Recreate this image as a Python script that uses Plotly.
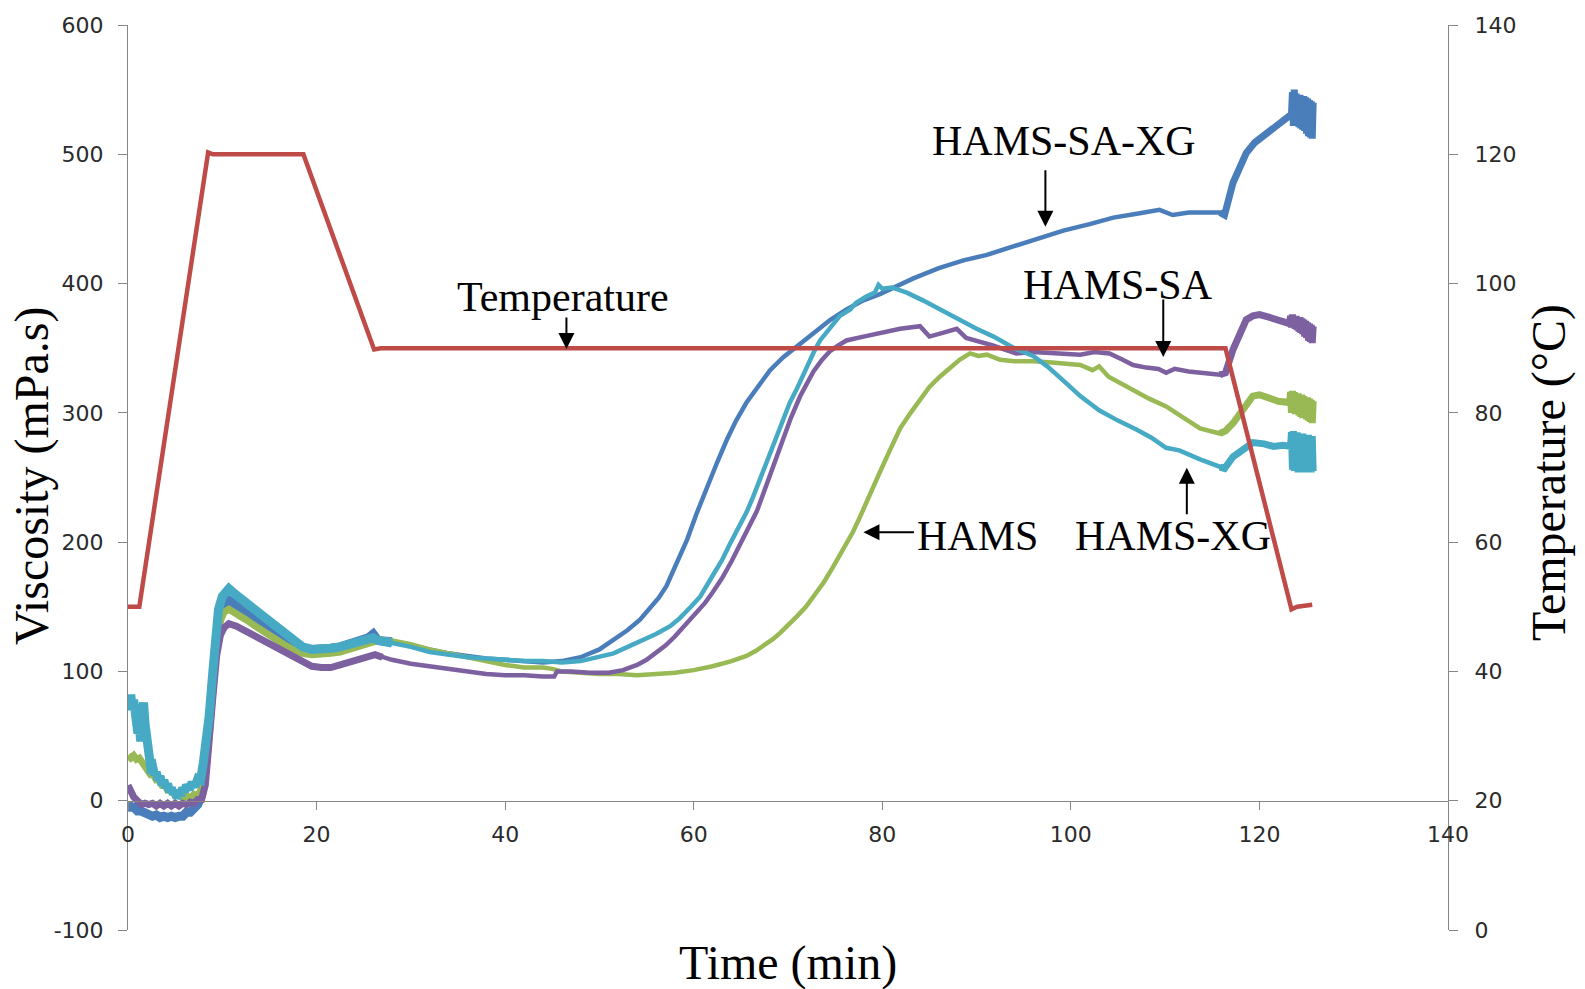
import plotly.graph_objects as go

# ---------------------------------------------------------------------------
# Data: time (min) vs viscosity (mPa.s) for each formulation, and the
# temperature programme (°C). Noisy stretches are recorded as alternating
# upper / lower readings.
# ---------------------------------------------------------------------------
hams_sa_xg = [
    (0, -2), (0.3, -5), (0.6, -5), (1.0, -8), (1.4, -8), (1.8, -10), (2.2, -10),
    (2.6, -12), (3.0, -11), (3.4, -13), (3.8, -12), (4.2, -13), (4.6, -12),
    (5.0, -13), (5.4, -12), (5.8, -12), (6.2, -9), (6.6, -9), (7.0, -6),
    (7.4, -3), (7.8, 4), (8.2, 25), (8.6, 60), (9.0, 100), (9.4, 128),
    (9.8, 145), (10.2, 152), (10.7, 155),
    (11.5, 151), (12.5, 147), (13.5, 142), (14.5, 137), (15.5, 132), (16.5, 127),
    (17.5, 122), (18.5, 118), (19.5, 117), (20.5, 117), (21.5, 118), (22.5, 119),
    (23.5, 121), (24.5, 123), (25.5, 126), (26.0, 129), (26.5, 124),
    (28, 123), (30, 120), (32, 117), (34, 114), (36, 112), (38, 110), (40, 109),
    (42, 108), (44, 107), (46, 108), (48, 111), (50, 117), (51.5, 124),
    (53, 132), (54.3, 140), (55.5, 150), (56.3, 157), (57.1, 166), (58.2, 183),
    (59.3, 202), (60.3, 222), (61.4, 243), (62.5, 262), (63.5, 279),
    (64.5, 294), (65.6, 308), (66.8, 320), (68.1, 333), (69.5, 343),
    (70.9, 351), (72.7, 362), (74.5, 372), (76.2, 380), (78, 387), (79.8, 392),
    (81.5, 398), (83.3, 404), (86, 412), (88.6, 418), (91, 422), (93.9, 429),
    (96.5, 435), (99.2, 441), (102, 446), (104.5, 451), (107, 454),
    (109.4, 457), (110.8, 453), (112.5, 455), (114, 455), (115.8, 455),
    (116.3, 453),
    (117.2, 478), (118, 493), (118.6, 501), (119.5, 509), (120.4, 514),
    (121.3, 518), (122.2, 523), (123.0, 528), (123.4, 531),
    (123.5, 548), (123.6, 522), (123.7, 550), (123.8, 523), (123.9, 547),
    (124.0, 522), (124.1, 546), (124.2, 521), (124.3, 546), (124.4, 520),
    (124.5, 545), (124.6, 519), (124.7, 545), (124.8, 518), (124.9, 544),
    (125.0, 516), (125.1, 543), (125.2, 514), (125.3, 542), (125.4, 513),
    (125.5, 541), (125.6, 512), (125.7, 540),
]

hams_sa = [
    (0, 12), (0.3, 7), (0.6, 3), (1.0, 0), (1.4, -3), (1.8, -2), (2.2, -3),
    (2.6, -2), (3.0, -4), (3.4, -2), (3.8, -4), (4.2, -2), (4.6, -4), (5.0, -2),
    (5.4, -4), (5.8, -2), (6.2, -3), (6.6, -1), (7.0, -2), (7.4, 1), (7.8, 1),
    (8.2, 12), (8.6, 40), (9.0, 80), (9.4, 112), (9.8, 128), (10.2, 134),
    (10.7, 137),
    (11.5, 135), (12.5, 131), (13.5, 127), (14.5, 123), (15.5, 119), (16.5, 115),
    (17.5, 111), (18.5, 107), (19.5, 104), (20.5, 103), (21.5, 103), (22.5, 105),
    (23.5, 107), (24.5, 109), (25.5, 111), (26.2, 113), (27, 111),
    (28, 109), (30, 106), (32, 104), (34, 102), (36, 100), (38, 98), (40, 97),
    (42, 97), (44, 96), (45.2, 96), (45.5, 100), (47, 100), (49, 99), (51, 99),
    (52.5, 101), (54, 105), (55, 109), (56, 114), (57, 120), (58, 127),
    (59, 135), (60.3, 145), (61.2, 153), (62, 161), (63, 172), (64, 185),
    (65, 199), (65.8, 212), (66.7, 224), (67.5, 240), (68.4, 258), (69.2, 274),
    (70.3, 296), (71.3, 313), (72.7, 332), (73.6, 341), (74.5, 348),
    (75.3, 352), (76.2, 356), (78, 359), (80, 362), (81.9, 365), (84, 367),
    (85, 359), (86.5, 362), (87.9, 365), (88.9, 358), (90.5, 355), (91.8, 352),
    (93, 349), (94.2, 346), (96, 347), (98, 346), (99.5, 346), (101, 345),
    (102.5, 347), (104.1, 346), (105.5, 341), (106.6, 337), (108, 335),
    (109.3, 334), (110.1, 331), (111, 334), (112.5, 332), (113.7, 331),
    (115, 330), (115.8, 329.5), (116.4, 331), (117.2, 349), (118, 364),
    (118.6, 372), (119.3, 375), (120, 376), (121, 374), (122, 372), (123.2, 369),
    (123.3, 375), (123.4, 366), (123.5, 376), (123.6, 366), (123.7, 375),
    (123.8, 365), (123.9, 375), (124.0, 364), (124.1, 374), (124.2, 363),
    (124.3, 374), (124.4, 362), (124.5, 373), (124.6, 361), (124.7, 372),
    (124.8, 359), (124.9, 371), (125.0, 358), (125.1, 370), (125.2, 356),
    (125.3, 369), (125.4, 355), (125.5, 368), (125.6, 354), (125.7, 367),
]

hams = [
    (0, 35), (0.3, 33), (0.6, 35), (0.9, 32), (1.2, 33), (1.5, 30), (1.8, 27),
    (2.1, 23), (2.4, 20), (2.7, 20), (3.0, 16), (3.3, 16), (3.6, 12), (3.9, 12),
    (4.2, 8), (4.6, 8), (5.0, 4), (5.4, 5), (5.8, 2), (6.2, 4), (6.6, 2),
    (7.0, 5), (7.4, 4), (7.8, 9), (8.2, 20), (8.6, 50), (9.0, 90), (9.4, 122),
    (9.8, 139), (10.2, 146), (10.7, 148),
    (11.5, 145), (12.5, 140), (13.5, 135), (14.5, 130), (15.5, 125), (16.5, 121),
    (17.5, 117), (18.5, 114), (19.5, 113), (20.5, 113), (21.5, 114), (22.5, 115),
    (23.5, 117), (24.5, 119), (25.5, 121), (26.3, 123), (27, 125),
    (28, 124), (30, 121), (32, 117), (34, 114), (36, 111), (38, 108), (40, 105),
    (42, 103), (44, 103), (45, 102), (46, 100), (48, 99), (50, 98), (52, 98),
    (54, 97), (56, 98), (58, 99), (60, 101), (62, 104), (64, 108), (65.6, 112),
    (66.6, 116), (67.5, 120), (68.4, 125), (69.2, 130), (70.1, 136), (71, 143),
    (71.9, 150), (72.7, 158), (73.8, 169), (74.8, 181), (75.9, 195),
    (76.9, 208), (77.6, 219), (78.3, 231), (79, 243), (79.8, 255), (80.8, 271),
    (81.9, 288), (83, 300), (84, 310), (85, 320), (86.1, 328), (87.2, 335),
    (88.2, 341), (89.3, 346), (90.2, 344), (91.1, 345), (92.5, 341), (94, 340),
    (96, 340), (98, 339), (100, 338), (101, 337), (102.3, 333), (103, 336),
    (104, 328), (105, 324), (106.6, 318), (108.3, 311), (110.1, 305),
    (111.8, 297), (113.7, 288), (115.8, 284), (116.4, 286), (117.2, 292),
    (118.2, 303), (119.3, 313), (120, 314), (121, 311), (122, 309), (123.2, 308),
    (123.3, 316), (123.4, 300), (123.5, 317), (123.6, 300), (123.7, 316),
    (123.8, 299), (123.9, 315), (124.0, 299), (124.1, 315), (124.2, 298),
    (124.3, 314), (124.4, 297), (124.5, 314), (124.6, 296), (124.7, 313),
    (124.8, 296), (124.9, 312), (125.0, 295), (125.1, 312), (125.2, 294),
    (125.3, 311), (125.4, 293), (125.5, 310), (125.6, 292), (125.7, 309),
]

hams_xg = [
    (0, 80), (0.15, 74), (0.3, 82), (0.45, 70), (0.6, 78), (0.75, 62),
    (0.9, 67), (1.05, 52), (1.2, 58), (1.35, 46), (1.5, 64), (1.65, 76),
    (1.8, 60), (1.95, 50), (2.1, 38), (2.25, 33), (2.4, 26), (2.6, 27),
    (2.8, 20), (3.0, 22), (3.2, 16), (3.4, 19), (3.6, 12), (3.8, 16), (4.0, 10),
    (4.2, 13), (4.4, 7), (4.6, 10), (4.8, 5), (5.0, 8), (5.2, 2), (5.4, 6),
    (5.6, 4), (5.8, 10), (6.0, 7), (6.2, 12), (6.5, 9), (6.8, 14), (7.1, 11),
    (7.4, 17), (7.7, 16), (8.0, 30), (8.3, 45), (8.6, 65), (9.0, 100),
    (9.3, 130), (9.6, 148), (10.0, 158), (10.4, 162), (10.7, 164),
    (11.5, 159), (12.5, 153), (13.5, 147), (14.5, 141), (15.5, 135), (16.5, 129),
    (17.5, 124), (18.5, 119), (19.5, 117), (20.5, 117), (21.5, 118), (22.5, 119),
    (23.5, 121), (24.5, 122), (25.5, 124), (26.0, 126), (26.5, 124),
    (28, 122), (30, 119), (32, 115), (34, 113), (36, 111), (38, 110), (40, 109),
    (42, 108), (44, 108), (46, 107), (48, 108), (50, 111), (51.5, 114),
    (53, 119), (54.5, 124), (56, 129), (57.5, 135), (58.5, 141), (59.7, 150),
    (60.7, 158), (62, 174), (63, 186), (63.8, 198), (64.7, 210), (65.6, 223),
    (66.3, 235), (67, 248), (67.7, 261), (68.4, 274), (69, 286), (69.6, 297),
    (70.2, 308), (70.9, 318), (71.5, 328), (72.2, 338), (72.8, 348),
    (73.4, 356), (74.5, 366), (75.5, 375), (76.6, 380), (77.2, 385),
    (78.3, 390), (79.2, 393), (79.6, 399), (80, 396), (81, 397), (82.6, 393),
    (84.3, 387), (86.1, 380), (88, 372), (90, 365), (91.8, 359), (94, 350),
    (96, 344), (97.5, 336), (99.5, 323), (101, 313), (103, 302), (105, 294),
    (107, 287), (108.5, 281), (110.1, 273), (111.5, 271), (113.7, 264),
    (115.8, 258), (116.3, 257), (117.2, 266), (118.2, 272), (119.3, 277),
    (120.5, 276), (121.5, 274), (122.5, 275), (123.3, 274),
    (123.4, 285), (123.5, 256), (123.6, 286), (123.7, 255), (123.8, 285),
    (123.9, 255), (124.0, 285), (124.1, 254), (124.2, 284), (124.3, 255),
    (124.4, 284), (124.5, 254), (124.6, 284), (124.7, 255), (124.8, 283),
    (124.9, 254), (125.0, 283), (125.1, 254), (125.2, 283), (125.3, 255),
    (125.4, 282), (125.5, 254), (125.6, 282), (125.7, 255),
]

temperature = [
    (0, 50), (1.2, 50), (8.5, 120.3), (9.0, 120), (18.6, 120), (26.1, 89.8),
    (26.8, 90), (116.4, 90), (123.4, 49.6), (124.0, 50), (125.6, 50.3),
]

x_ticks = [0, 20, 40, 60, 80, 100, 120, 140]
visc_ticks = [-100, 0, 100, 200, 300, 400, 500, 600]
temp_ticks = [0, 20, 40, 60, 80, 100, 120, 140]

# ---------------------------------------------------------------------------
# Styling
# ---------------------------------------------------------------------------
AXIS_GREY = "#868686"
TICK_FONT = dict(family="DejaVu Sans, Open Sans, sans-serif", size=22,
                 color="#2b2b2b")
SERIF = "Liberation Serif, Times New Roman, serif"

# (series, colour, width before 26.5 min, plateau width, width after 116.3 min)
series_style = [
    (hams_sa_xg, "#4A7EBB", 9, 4.5, 7),
    (hams, "#98B954", 7, 4.5, 7),
    (hams_sa, "#7D60A0", 7, 4.5, 7),
    (hams_xg, "#46AAC5", 9, 4.5, 7),
]
CUTS = (26.5, 116.3)


def split_runs(points, cuts):
    """Split a series into consecutive time ranges that share their end points."""
    bounds = [float("-inf"), *cuts, float("inf")]
    pieces = []
    for lo, hi in zip(bounds[:-1], bounds[1:]):
        idx = [i for i, (t, _) in enumerate(points) if lo <= t <= hi]
        if not idx:
            continue
        a = max(idx[0] - 1, 0)
        b = min(idx[-1] + 1, len(points) - 1)
        pieces.append(points[a:b + 1])
    return pieces


fig = go.Figure()

for pts, colour, w_early, w_mid, w_late in series_style:
    widths = [w_early, w_mid, w_late]
    for piece, w in zip(split_runs(pts, CUTS), widths):
        fig.add_trace(go.Scatter(
            x=[p[0] for p in piece], y=[p[1] for p in piece],
            mode="lines", line=dict(color=colour, width=w, shape="linear"),
            hoverinfo="skip", showlegend=False,
        ))

fig.add_trace(go.Scatter(
    x=[p[0] for p in temperature], y=[p[1] for p in temperature],
    mode="lines", line=dict(color="#BE4B48", width=4.5),
    yaxis="y2", hoverinfo="skip", showlegend=False,
))

# ---------------------------------------------------------------------------
# Layout
# ---------------------------------------------------------------------------
W, H = 1585, 989
ML, MR, MT, MB = 128, 137, 25, 59

axis_common = dict(
    showline=True, linecolor=AXIS_GREY, linewidth=1,
    ticks="outside", tickcolor=AXIS_GREY, tickwidth=1,
    showgrid=False, zeroline=False, tickfont=TICK_FONT,
)

fig.update_layout(
    width=W, height=H, autosize=False,
    margin=dict(l=ML, r=MR, t=MT, b=MB, pad=0),
    plot_bgcolor="white", paper_bgcolor="white",
    showlegend=False,
    xaxis=dict(range=[0, 140], tickvals=x_ticks,
               ticktext=[str(v) for v in x_ticks], anchor="free",
               position=100 / 700, side="bottom", ticklen=8,
               ticklabelstandoff=6, automargin=False, **axis_common),
    yaxis=dict(range=[-100, 600], tickvals=visc_ticks,
               ticktext=[str(v) for v in visc_ticks], ticklen=9,
               ticklabelstandoff=10, automargin=False, **axis_common),
    yaxis2=dict(range=[0, 140], tickvals=temp_ticks,
                ticktext=[str(v) for v in temp_ticks], overlaying="y",
                side="right", anchor="x", ticklen=9, ticklabelstandoff=12,
                automargin=False, **axis_common),
)

# Axis titles
fig.add_annotation(text="Time (min)", xref="paper", yref="paper",
                   x=0.4998, y=-0.0365, showarrow=False,
                   xanchor="center", yanchor="middle",
                   font=dict(family=SERIF, size=48, color="black"))
fig.add_annotation(text="Viscosity (mPa.s)", xref="paper", yref="paper",
                   x=-0.0729, y=0.5015, textangle=-90, showarrow=False,
                   xanchor="center", yanchor="middle",
                   font=dict(family=SERIF, size=48, color="black"))
fig.add_annotation(text="Temperature (°C)", xref="paper", yref="paper",
                   x=1.0765, y=0.506, textangle=-90, showarrow=False,
                   xanchor="center", yanchor="middle",
                   font=dict(family=SERIF, size=48, color="black"))

# Curve labels (time, viscosity)
labels = [
    ("HAMS-SA-XG", 99.3, 510),
    ("Temperature", 46.1, 389.7),
    ("HAMS-SA", 105.0, 399),
    ("HAMS", 90.1, 205),
    ("HAMS-XG", 110.8, 204.8),
]
for text, lx, ly in labels:
    fig.add_annotation(text=text, x=lx, y=ly, xref="x", yref="y",
                       showarrow=False, xanchor="center", yanchor="middle",
                       font=dict(family=SERIF, size=42, color="black"))

# Pointer arrows: tip (time, viscosity) and tail offset in pixels
pointers = [
    (97.3, 444, 0, -58),
    (46.5, 349.3, 0, -33),
    (109.8, 343.2, 0, -59),
    (78.0, 207.7, 52, 0),
    (112.3, 257.5, 0, 48),
]
for px, py, dx, dy in pointers:
    fig.add_annotation(text="", x=px, y=py, xref="x", yref="y",
                       ax=dx, ay=dy, showarrow=True, arrowhead=2,
                       arrowsize=1.6, arrowwidth=2, arrowcolor="black",
                       standoff=0, startstandoff=0)

fig.write_html("out.html")
